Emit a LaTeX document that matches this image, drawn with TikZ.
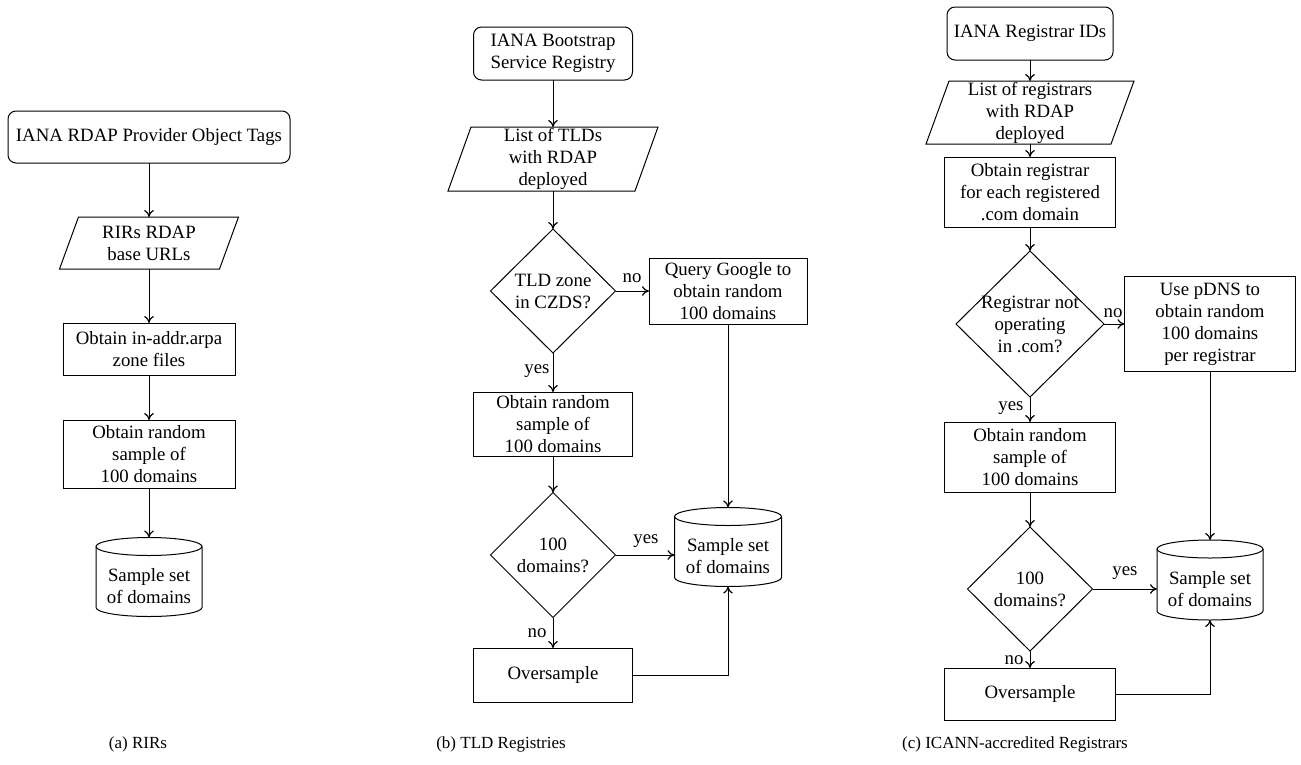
\documentclass[tikz,border=0pt]{standalone}
\usepackage{fontspec}
\setmainfont{Liberation Serif}
\usetikzlibrary{arrows.meta}
\newcommand\figfs{\fontsize{18.8pt}{22pt}\selectfont}
\newcommand\capfs{\fontsize{17pt}{20pt}\selectfont}
\newcommand\drawpara[2]{\draw ([xshift=#2]#1.north west) -- ([xshift=#2]#1.north east) -- ([xshift=-#2]#1.south east) -- ([xshift=-#2]#1.south west) -- cycle;}
\newcommand\drawdiam[1]{\draw (#1.north) -- (#1.east) -- (#1.south) -- (#1.west) -- cycle;}
\newcommand\drawcyl[2]{%
  \draw ([yshift=-9pt]#1.north) ellipse [x radius=#2, y radius=9pt];
  \draw ([yshift=-9pt]#1.north west) -- ([yshift=9pt]#1.south west) arc[start angle=180, end angle=360, x radius=#2, y radius=9pt] -- ([yshift=-9pt]#1.north east);}
\begin{document}
\begin{tikzpicture}[x=1pt,y=-1pt, line width=1pt,
  base/.style={font=\figfs, align=center, inner sep=0pt, outer sep=0pt},
  rbox/.style={base, draw, rounded corners=8pt},
  sbox/.style={base, draw},
  blank/.style={base},
  lbl/.style={font=\figfs, inner sep=0pt},
  captxt/.style={font=\capfs, inner sep=0pt},
  arr/.style={-{To[length=7pt,width=9.5pt,line width=1.2pt]}}]
\useasboundingbox (0,0) rectangle (1301,764);

% ---------- (a) ----------
\node[rbox, minimum width=282pt, minimum height=52pt] (a1) at (149,137) {IANA RDAP Provider Object Tags};
\node[blank, minimum width=160pt, minimum height=52pt] (a2) at (149,243) {RIRs RDAP\\base URLs};
\drawpara{a2}{9.5pt}
\node[sbox, minimum width=172pt, minimum height=52pt] (a3) at (149,349) {Obtain in-addr.arpa\\zone files};
\node[sbox, minimum width=172pt, minimum height=68pt] (a4) at (149,454) {Obtain random\\sample of\\100 domains};
\node[blank, minimum width=106pt, minimum height=79pt] (a5) at (149,577) {};
\drawcyl{a5}{53pt}
\node[base] (a5t) at ([yshift=-9pt]a5.center) {Sample set\\of domains};
\draw[arr] (a1) -- (a2);
\draw[arr] (a2) -- (a3);
\draw[arr] (a3) -- (a4);
\draw[arr] (a4) -- (a5);

% ---------- (b) ----------
\node[rbox, minimum width=159pt, minimum height=53pt] (b1) at (553,53.5) {IANA Bootstrap\\Service Registry};
\node[blank, minimum width=187pt, minimum height=64pt] (b2) at (553,159) {List of TLDs\\with RDAP\\deployed};
\drawpara{b2}{11.5pt}
\node[blank, minimum width=125pt, minimum height=124pt] (b3) at (553,291) {TLD zone\\in CZDS?};
\drawdiam{b3}
\node[sbox, minimum width=158pt, minimum height=66pt] (b4) at (728,291) {Query Google to\\obtain random\\100 domains};
\node[sbox, minimum width=159pt, minimum height=64pt] (b5) at (553,424) {Obtain random\\sample of\\100 domains};
\node[blank, minimum width=125pt, minimum height=125pt] (b6) at (553,555) {100\\domains?};
\drawdiam{b6}
\node[blank, minimum width=107pt, minimum height=79pt] (b7) at (728,547) {};
\drawcyl{b7}{53.5pt}
\node[base] (b7t) at ([yshift=-9pt]b7.center) {Sample set\\of domains};
\node[sbox, minimum width=159pt, minimum height=54pt] (b8) at (553,675) {Oversample};
\draw[arr] (b1) -- (b2);
\draw[arr] (b2) -- (b3);
\draw[arr] (b3.east) -- (b4.west);
\draw[arr] (b3.south) -- (b5.north);
\draw[arr] (b5) -- (b6);
\draw[arr] (b6.east) -- (b6.east -| b7.west);
\draw[arr] (b6.south) -- (b8.north);
\draw[arr] (b8.east) -| (b7.south);
\draw[arr] (b4.south) -- (b7.north);
\node[lbl] (nb1) at (632,278) {no};
\node[lbl] (yb1) at (537,371) {yes};
\node[lbl] (yb2) at (646,541) {yes};
\node[lbl] (nb2) at (537,633) {no};

% ---------- (c) ----------
\node[rbox, minimum width=166pt, minimum height=53pt] (c1) at (1030,33.5) {IANA Registrar IDs};
\node[blank, minimum width=185pt, minimum height=63pt] (c2) at (1030,112.5) {List of registrars\\with RDAP\\deployed};
\drawpara{c2}{11.5pt}
\node[sbox, minimum width=171pt, minimum height=70pt] (c3) at (1030,192) {Obtain registrar\\for each registered\\.com domain};
\node[blank, minimum width=148pt, minimum height=146pt] (c4) at (1030,324) {Registrar not\\operating\\in .com?};
\drawdiam{c4}
\node[sbox, minimum width=171pt, minimum height=95pt] (c5) at (1210,324) {Use pDNS to\\obtain random\\100 domains\\per registrar};
\node[sbox, minimum width=171pt, minimum height=70pt] (c6) at (1030,457) {Obtain random\\sample of\\100 domains};
\node[blank, minimum width=125pt, minimum height=124pt] (c7) at (1030,589) {100\\domains?};
\drawdiam{c7}
\node[blank, minimum width=106pt, minimum height=80pt] (c8) at (1210,580) {};
\drawcyl{c8}{53pt}
\node[base] (c8t) at ([yshift=-9pt]c8.center) {Sample set\\of domains};
\node[sbox, minimum width=171pt, minimum height=52pt] (c9) at (1030,694) {Oversample};
\draw[arr] (c1) -- (c2);
\draw[arr] (c2) -- (c3);
\draw[arr] (c3) -- (c4);
\draw[arr] (c4.east) -- (c5.west);
\draw[arr] (c4.south) -- (c6.north);
\draw[arr] (c6) -- (c7);
\draw[arr] (c7.east) -- (c7.east -| c8.west);
\draw[arr] (c7.south) -- (c9.north);
\draw[arr] (c9.east) -| (c8.south);
\draw[arr] (c5.south) -- (c8.north);
\node[lbl] (nc1) at (1113,313) {no};
\node[lbl] (yc1) at (1011,408) {yes};
\node[lbl] (yc2) at (1125,573) {yes};
\node[lbl] (nc2) at (1014,660) {no};

% ---------- captions ----------
\node[captxt] (capa) at (138,744) {(a) RIRs};
\node[captxt] (capb) at (501,744) {(b) TLD Registries};
\node[captxt] (capc) at (1015,744) {(c) ICANN-accredited Registrars};
\end{tikzpicture}
\end{document}
